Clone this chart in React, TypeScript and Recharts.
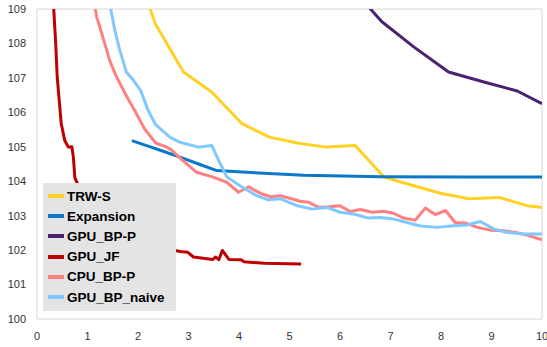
import React from "react";
import { LineChart, Line, XAxis, YAxis, ReferenceArea } from "recharts";

// [seconds, energy] pairs
const trwS: [number, number][] = [
  [2.17, 109.3], [2.34, 108.58], [2.9, 107.17], [3.46, 106.59], [4.06, 105.67],
  [4.6, 105.28], [5.18, 105.1], [5.72, 104.99], [6.3, 105.04], [6.87, 104.12],
  [7.46, 103.87], [7.99, 103.65], [8.55, 103.49], [9.15, 103.53], [9.71, 103.29],
  [10, 103.24],
];

const expansion: [number, number][] = [
  [1.88, 105.18], [2.2, 105.02], [2.5, 104.87], [2.83, 104.7], [3.2, 104.5],
  [3.56, 104.31], [4.15, 104.26], [5.28, 104.17], [6.8, 104.13], [8.5, 104.12],
  [10, 104.12],
];

const gpuBpP: [number, number][] = [
  [6.45, 109.25], [6.83, 108.63], [7.46, 107.9], [8.15, 107.17], [8.85, 106.88],
  [9.51, 106.62], [10, 106.25],
];

const gpuJf: [number, number][] = [
  [0.32, 109.3], [0.37, 108.0], [0.4, 107.03], [0.44, 106.35], [0.48, 105.67],
  [0.55, 105.18], [0.62, 104.99], [0.69, 105.0], [0.72, 104.7], [0.75, 104.1],
  [0.8, 103.94], [1.0, 103.2], [1.4, 102.6], [2.0, 102.25], [2.5, 102.05],
  [2.84, 101.96], [2.98, 101.94], [3.1, 101.8], [3.48, 101.73], [3.54, 101.8],
  [3.6, 101.72], [3.67, 101.99], [3.8, 101.73], [4.04, 101.72], [4.1, 101.66],
  [4.5, 101.62], [5.23, 101.6],
];

const cpuBpP: [number, number][] = [
  [1.13, 109.2], [1.18, 108.78], [1.24, 108.5], [1.34, 108.0], [1.44, 107.5],
  [1.56, 107.08], [1.78, 106.45], [1.97, 105.96], [2.13, 105.52], [2.35, 105.11],
  [2.57, 104.99], [2.67, 104.9], [2.83, 104.68], [3.16, 104.26], [3.49, 104.12],
  [3.76, 103.97], [3.99, 103.68], [4.19, 103.84], [4.42, 103.65], [4.62, 103.55],
  [4.82, 103.58], [5.02, 103.5], [5.21, 103.42], [5.38, 103.39], [5.58, 103.24],
  [5.78, 103.26], [6.0, 103.29], [6.2, 103.12], [6.4, 103.18], [6.64, 103.1],
  [6.86, 103.13], [7.06, 103.07], [7.26, 102.93], [7.49, 102.87], [7.69, 103.22],
  [7.89, 103.03], [8.09, 103.15], [8.28, 102.8], [8.48, 102.79], [8.72, 102.66],
  [8.98, 102.58], [9.24, 102.56], [9.48, 102.51], [9.74, 102.42], [10, 102.3],
];

const gpuBpNaive: [number, number][] = [
  [1.43, 109.23], [1.54, 108.39], [1.64, 107.8], [1.77, 107.17], [1.91, 106.93],
  [2.05, 106.64], [2.2, 106.06], [2.35, 105.64], [2.63, 105.28], [2.83, 105.13],
  [3.2, 104.99], [3.46, 105.04], [3.6, 104.6], [3.76, 104.12], [4.02, 103.87],
  [4.35, 103.58], [4.58, 103.46], [4.82, 103.49], [5.15, 103.29], [5.45, 103.19],
  [5.74, 103.24], [6.0, 103.1], [6.27, 103.05], [6.56, 102.93], [6.8, 102.95],
  [7.06, 102.9], [7.33, 102.8], [7.59, 102.7], [7.92, 102.66], [8.25, 102.71],
  [8.51, 102.73], [8.78, 102.83], [9.05, 102.61], [9.31, 102.51], [9.64, 102.47],
  [10, 102.47],
];

const xTicks = [0, 1, 2, 3, 4, 5, 6, 7, 8, 9, 10];
const yTicks = [100, 101, 102, 103, 104, 105, 106, 107, 108, 109];

const series = [
  { name: "TRW-S", color: "#ffd124", points: trwS },
  { name: "Expansion", color: "#0a78c8", points: expansion },
  { name: "GPU_BP-P", color: "#4a2272", points: gpuBpP },
  { name: "GPU_JF", color: "#c00000", points: gpuJf },
  { name: "CPU_BP-P", color: "#ff8080", points: cpuBpP },
  { name: "GPU_BP_naive", color: "#80c8ff", points: gpuBpNaive },
];

const font = "'Liberation Sans', Arial, sans-serif";
const tick = { fontFamily: font, fontSize: 11, fill: "#333" };

export default function App() {
  return (
    <div style={{ position: "relative", width: 547, height: 347, background: "#fff" }}>
      <style>{"body{margin:0}"}</style>
      <LineChart width={547} height={347} margin={{ top: 9, right: 5, bottom: 0, left: 0 }}>
        <XAxis
          type="number"
          dataKey="x"
          domain={[0, 10]}
          ticks={xTicks}
          allowDataOverflow
          axisLine={false}
          tickLine={false}
          tickSize={11}
          tickMargin={2}
          height={28}
          tick={tick}
          interval={0}
        />
        <YAxis
          type="number"
          domain={[100, 109]}
          ticks={yTicks}
          allowDataOverflow
          axisLine={false}
          tickLine={false}
          tickSize={9}
          tickMargin={2}
          width={37}
          tick={tick}
          interval={0}
        />
        <ReferenceArea x1={0} x2={10} y1={100} y2={109} fill="none" stroke="#d6d6d6" strokeWidth={1} />
        {series.map((s) => (
          <Line
            key={s.name}
            data={s.points.map(([x, y]) => ({ x, y }))}
            dataKey="y"
            name={s.name}
            type="linear"
            stroke={s.color}
            strokeWidth={3}
            strokeLinejoin="round"
            dot={false}
            activeDot={false}
            isAnimationActive={false}
          />
        ))}
      </LineChart>
      <div
        style={{
          position: "absolute",
          left: 43,
          top: 183,
          width: 133,
          height: 128,
          background: "#e4e4e4",
          fontFamily: font,
          fontWeight: "bold",
          fontSize: 13.5,
          color: "#000",
          paddingTop: 3,
          boxSizing: "border-box",
        }}
      >
        {series.map((s) => (
          <div key={s.name} style={{ display: "flex", alignItems: "center", height: 20.2 }}>
            <span style={{ display: "inline-block", width: 16, height: 4, background: s.color, marginLeft: 5, marginRight: 3 }} />
            <span>{s.name}</span>
          </div>
        ))}
      </div>
    </div>
  );
}
